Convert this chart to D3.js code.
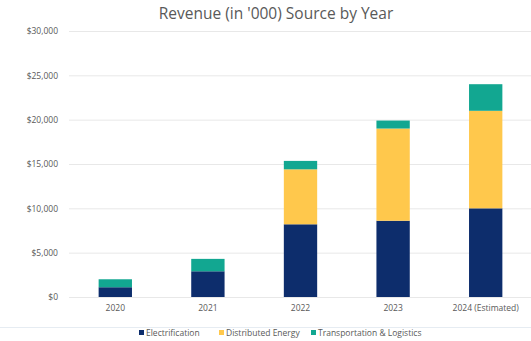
<!DOCTYPE html>
<html>
<head>
<meta charset="utf-8">
<script src="https://cdn.jsdelivr.net/npm/d3@7"></script>
<style>
  body { margin: 0; background: #fff; }
  text { font-family: "Open Sans", "Liberation Sans", "DejaVu Sans", sans-serif; }
</style>
</head>
<body>
<script>
var svgWidth = 531;
var svgHeight = 341;

var years = ["2020", "2021", "2022", "2023", "2024 (Estimated)"];
var seriesNames = ["Electrification", "Distributed Energy", "Transportation & Logistics"];
var electrification = [1100, 2900, 8200, 8600, 10000];
var distributedEnergy = [0, 0, 6200, 10400, 11000];
var transportation = [900, 1400, 950, 900, 3000];
var yTicks = [0, 5000, 10000, 15000, 20000, 25000, 30000];
var colors = ["#0d2d6c", "#ffc84c", "#12a791"];

var Margin = { top: 31, right: 0, bottom: 44, left: 69 };
var Width = svgWidth - Margin.left - Margin.right;
var Height = svgHeight - Margin.top - Margin.bottom;

var svg = d3.select("body").append("svg")
  .attr("width", svgWidth)
  .attr("height", svgHeight);

svg.append("text")
  .attr("x", 276)
  .attr("y", 19)
  .attr("text-anchor", "middle")
  .style("font-size", "15.5px")
  .style("fill", "#595959")
  .text("Revenue (in '000) Source by Year");

var chartGroup = svg.append("g")
  .attr("transform", `translate(${Margin.left}, ${Margin.top})`);

var tableData = years.map(function(y, i) {
  return {
    year: y,
    "Electrification": electrification[i],
    "Distributed Energy": distributedEnergy[i],
    "Transportation & Logistics": transportation[i]
  };
});

var stacked = d3.stack().keys(seriesNames)(tableData);

var xScale = d3.scaleBand()
  .domain(years)
  .range([0, Width + 1])
  .paddingInner(0.64)
  .paddingOuter(0.32);

var yScale = d3.scaleLinear()
  .domain([0, 30000])
  .range([Height, 0]);

// gridlines
chartGroup.append("g")
  .selectAll("line")
  .data(yTicks)
  .enter()
  .append("line")
  .attr("x1", 0)
  .attr("x2", Width)
  .attr("y1", d => yScale(d) + 0.5)
  .attr("y2", d => yScale(d) + 0.5)
  .attr("stroke", "#e8e8e8")
  .attr("stroke-width", 1);

var leftAxis = d3.axisLeft(yScale)
  .tickValues(yTicks)
  .tickSize(0)
  .tickPadding(11)
  .tickFormat(d => "$" + d3.format(",")(d));

var yAxis = chartGroup.append("g").call(leftAxis);
yAxis.select(".domain").remove();
yAxis.selectAll("text")
  .style("font-size", "8.5px")
  .style("fill", "#595959");

var bottomAxis = d3.axisBottom(xScale).tickSize(0).tickPadding(8);
var xAxis = chartGroup.append("g")
  .attr("transform", `translate(0, ${Height})`)
  .call(bottomAxis);
xAxis.select(".domain").remove();
xAxis.selectAll("text")
  .style("font-size", "8.5px")
  .style("fill", "#595959");

chartGroup.selectAll(".series")
  .data(stacked)
  .enter()
  .append("g")
  .attr("class", "series")
  .attr("fill", (d, i) => colors[i])
  .selectAll("rect")
  .data(d => d)
  .enter()
  .append("rect")
  .attr("x", d => xScale(d.data.year))
  .attr("y", d => yScale(d[1]))
  .attr("width", xScale.bandwidth())
  .attr("height", d => yScale(d[0]) - yScale(d[1]));

// faint frame line above legend
svg.append("line")
  .attr("x1", 0)
  .attr("x2", svgWidth)
  .attr("y1", 327.5)
  .attr("y2", 327.5)
  .attr("stroke", "#e6ecf2")
  .attr("stroke-width", 1);

var legendX = [139, 219, 311];
var legend = svg.selectAll(".legend")
  .data(seriesNames)
  .enter()
  .append("g")
  .attr("class", "legend")
  .attr("transform", (d, i) => `translate(${legendX[i]}, 333)`);

legend.append("rect")
  .attr("x", 0)
  .attr("y", -3)
  .attr("width", 5)
  .attr("height", 5)
  .attr("fill", (d, i) => colors[i]);

legend.append("text")
  .attr("x", 7)
  .attr("y", 0)
  .attr("dy", "0.32em")
  .style("font-size", "8.5px")
  .style("fill", "#595959")
  .text(d => d);
</script>
</body>
</html>
